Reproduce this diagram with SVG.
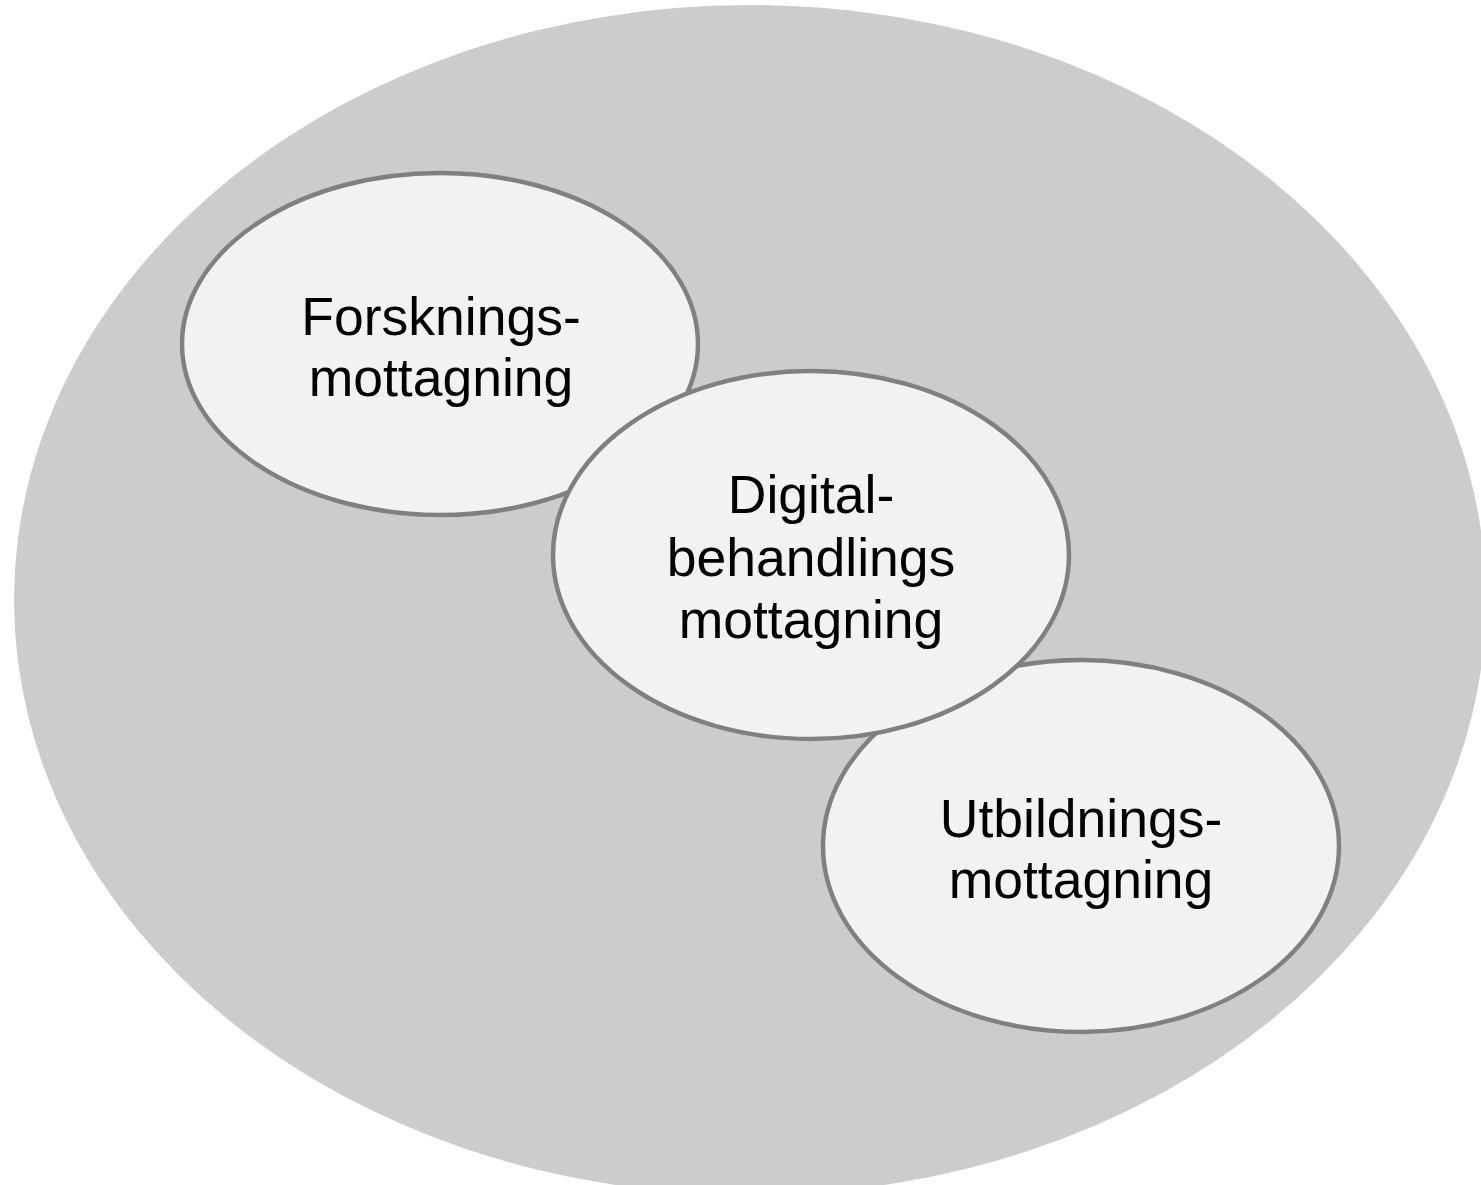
<svg xmlns="http://www.w3.org/2000/svg" width="1481" height="1185" viewBox="0 0 1481 1185">
<style>
.bg{fill:#cccccc;}
.node{fill:#f2f2f2;stroke:#808080;stroke-width:4.5;}
.lbl{font-family:"Liberation Sans",Arial,sans-serif;font-size:53.5px;fill:#000;text-anchor:middle;}
</style>
<rect width="1481" height="1185" fill="#ffffff"/>
<ellipse class="bg" cx="750" cy="600" rx="736" ry="595"/>
<g id="connectors"></g>
<g id="forsknings">
<ellipse class="node" cx="440" cy="344" rx="258" ry="171"/>
<text class="lbl" x="441" y="335">Forsknings-</text>
<text class="lbl" x="441" y="396">mottagning</text>
</g>
<g id="utbildnings">
<ellipse class="node" cx="1081" cy="846" rx="258" ry="186"/>
<text class="lbl" x="1081" y="837">Utbildnings-</text>
<text class="lbl" x="1081" y="898">mottagning</text>
</g>
<g id="digital">
<ellipse class="node" cx="811" cy="555" rx="258" ry="184"/>
<text class="lbl" x="811" y="513">Digital-</text>
<text class="lbl" x="811" y="576">behandlings</text>
<text class="lbl" x="811" y="638">mottagning</text>
</g>
</svg>
